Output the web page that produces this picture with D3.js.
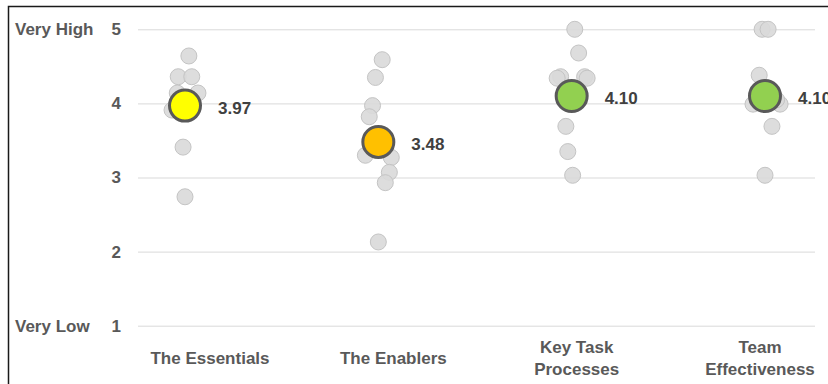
<!DOCTYPE html>
<html>
<head>
<meta charset="utf-8">
<script src="https://cdn.jsdelivr.net/npm/d3@7/dist/d3.min.js"></script>
<style>
  html, body { margin: 0; padding: 0; background: #fff; }
  svg { display: block; font-family: "Liberation Sans", Arial, sans-serif; }
</style>
</head>
<body>
<svg id="chart" width="828" height="384"></svg>
<script>
// Survey dimensions (x = 1..4), individual responses and dimension means
const categories = ["The Essentials", "The Enablers", "Key Task Processes", "Team Effectiveness"];
const categoryLines = [["The Essentials"], ["The Enablers"], ["Key Task", "Processes"], ["Team", "Effectiveness"]];
const means = [3.97, 3.48, 4.10, 4.10];
const meanColors = ["#ffff00", "#ffc000", "#92d050", "#92d050"];

// Individual scores: x is the dimension index plus a small jitter
const essentialsX = [1.02, 0.965, 1.035, 1.067, 0.96, 1.0, 0.933, 0.99, 1.0];
const essentialsY = [4.64, 4.36, 4.36, 4.14, 4.14, 4.0, 3.91, 3.41, 2.74];
const enablersX = [2.02, 1.985, 1.97, 1.953, 1.933, 2.067, 2.057, 2.036, 2.0];
const enablersY = [4.59, 4.35, 3.97, 3.82, 3.30, 3.27, 3.07, 2.93, 2.13];
const keyTaskX = [3.016, 3.036, 2.943, 3.067, 2.925, 3.08, 2.97, 2.98, 3.005];
const keyTaskY = [5.0, 4.68, 4.36, 4.36, 4.34, 4.34, 3.69, 3.35, 3.03];
const teamX = [3.985, 4.016, 3.97, 3.938, 4.078, 4.036, 4.0, 4.06];
const teamY = [5.0, 5.0, 4.38, 3.99, 3.99, 3.69, 3.03, 4.05];

const yTicks = [1, 2, 3, 4, 5];
const yEndLabels = [{ v: 5, text: "Very High" }, { v: 1, text: "Very Low" }];

const pointsX = [essentialsX, enablersX, keyTaskX, teamX];
const pointsY = [essentialsY, enablersY, keyTaskY, teamY];
const responses = [];
pointsX.forEach((xs, i) => xs.forEach((x, j) => responses.push({ x, y: pointsY[i][j] })));

const svg = d3.select("#chart");
const W = 828, H = 384;

const x = d3.scaleLinear().domain([1, 4]).range([185, 765]);
const y = d3.scaleLinear().domain([1, 5]).range([325.7, 29.3]);
const xLabel = d3.scalePoint().domain(categories).range([210, 760]);

// frame
svg.append("rect")
  .attr("x", 8.5).attr("y", 6.5)
  .attr("width", W + 20).attr("height", H + 20)
  .attr("fill", "none").attr("stroke", "#1a1a1a").attr("stroke-width", 1.5);

// gridlines
const yAxis = d3.axisLeft(y).tickValues(yTicks).tickSize(-(815 - 138)).tickPadding(17).tickFormat(d3.format("d"));
const gy = svg.append("g").attr("transform", "translate(138,0)").call(yAxis);
gy.select(".domain").remove();
gy.selectAll(".tick line").attr("stroke", "#d9d9d9").attr("stroke-width", 1);
gy.selectAll(".tick text")
  .attr("fill", "#595959").attr("font-size", 17).attr("font-weight", "bold")
  .attr("font-family", "'Liberation Sans', Arial, sans-serif");

// end-of-scale descriptors
svg.append("g").selectAll("text").data(yEndLabels).join("text")
  .attr("x", 15).attr("y", d => y(d.v)).attr("dy", "0.35em")
  .attr("fill", "#595959").attr("font-size", 17).attr("font-weight", "bold")
  .text(d => d.text);

// category labels
const cat = svg.append("g").selectAll("text").data(categories).join("text")
  .attr("text-anchor", "middle")
  .attr("fill", "#595959").attr("font-size", 17).attr("font-weight", "bold")
  .attr("transform", d => `translate(${xLabel(d)},0)`);
cat.each(function (d, i) {
  const lines = categoryLines[i];
  const y0 = lines.length === 1 ? 358 : 347;
  d3.select(this).selectAll("tspan").data(lines).join("tspan")
    .attr("x", 0).attr("y", (l, k) => y0 + k * 22).attr("dy", "0.35em")
    .text(l => l);
});

// individual responses
svg.append("g").selectAll("circle").data(responses).join("circle")
  .attr("cx", d => x(d.x)).attr("cy", d => y(d.y)).attr("r", 8)
  .attr("fill", "#d9d9d9").attr("fill-opacity", 0.9)
  .attr("stroke", "#c4c4c4").attr("stroke-width", 1);

// means
const meanData = means.map((m, i) => ({ i, m }));
svg.append("g").selectAll("circle").data(meanData).join("circle")
  .attr("cx", d => x(d.i + 1)).attr("cy", d => y(d.m)).attr("r", 15.5)
  .attr("fill", d => meanColors[d.i]).attr("stroke", "#595959").attr("stroke-width", 3);

svg.append("g").selectAll("text").data(meanData).join("text")
  .attr("x", d => x(d.i + 1) + 33).attr("y", d => y(d.m) + 2).attr("dy", "0.35em")
  .attr("fill", "#404040").attr("font-size", 17).attr("font-weight", "bold")
  .text(d => d3.format(".2f")(d.m));
</script>
</body>
</html>
